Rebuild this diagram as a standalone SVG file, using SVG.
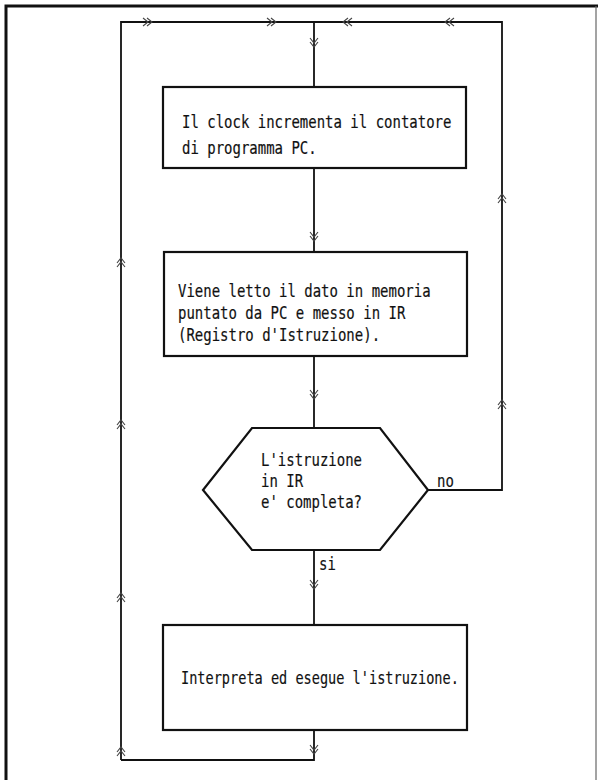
<svg xmlns="http://www.w3.org/2000/svg" width="598" height="780" viewBox="0 0 598 780">
<style>
.box{fill:none;stroke:#111;stroke-width:2.2}
.ln{fill:none;stroke:#111;stroke-width:1.8}
.ar{fill:none;stroke:#444;stroke-width:1.1}
.t{font-family:"DejaVu Sans Mono","Liberation Mono",monospace;font-size:14px;fill:#111;stroke:#111;stroke-width:0.15}
</style>
<defs>
<g id="dn"><path class="ar" d="M-4,-5 L0,0 L4,-5 M-4,-1 L0,4 L4,-1"/></g>
<g id="up"><path class="ar" d="M-4,5 L0,0 L4,5 M-4,1 L0,-4 L4,1"/></g>
<g id="rt"><path class="ar" d="M-5,-4 L0,0 L-5,4 M-1,-4 L4,0 L-1,4"/></g>
<g id="lt"><path class="ar" d="M5,-4 L0,0 L5,4 M1,-4 L-4,0 L1,4"/></g>
</defs>
<rect width="598" height="780" fill="#fff"/>
<g id="frame">
<path d="M6,780 L6,6 L598,6" fill="none" stroke="#111" stroke-width="3"/>
<line x1="596" y1="6" x2="596" y2="780" stroke="#666" stroke-width="1.2"/>
</g>
<g id="connectors">
<path class="ln" d="M121,760 L121,22 L502,22 L502,490 L428,490"/>
<path class="ln" d="M314,22 L314,87"/>
<path class="ln" d="M314,168 L314,252"/>
<path class="ln" d="M314,356 L314,428"/>
<path class="ln" d="M314,550 L314,625"/>
<path class="ln" d="M314,730 L314,760 L121,760"/>
<use href="#rt" x="148" y="22"/>
<use href="#rt" x="272" y="22"/>
<use href="#lt" x="347" y="22"/>
<use href="#lt" x="449" y="22"/>
<use href="#dn" x="314" y="43"/>
<use href="#dn" x="314" y="237"/>
<use href="#dn" x="314" y="395"/>
<use href="#dn" x="314" y="585"/>
<use href="#dn" x="314" y="750"/>
<use href="#up" x="121" y="262"/>
<use href="#up" x="121" y="424"/>
<use href="#up" x="121" y="597"/>
<use href="#up" x="121" y="751"/>
<use href="#up" x="502" y="198"/>
<use href="#up" x="502" y="404"/>
<text class="t" transform="translate(437,487) scale(1,1.25)">no</text>
<text class="t" transform="translate(319,570) scale(1,1.25)">si</text>
</g>
<g id="box1">
<rect class="box" x="163" y="87" width="303" height="81"/>
<text class="t" transform="translate(182,128) scale(1,1.25)">Il clock incrementa il contatore</text>
<text class="t" transform="translate(182,154) scale(1,1.25)">di programma PC.</text>
</g>
<g id="box2">
<rect class="box" x="164" y="252" width="303" height="104"/>
<text class="t" transform="translate(178,297) scale(1,1.25)">Viene letto il dato in memoria</text>
<text class="t" transform="translate(178,319) scale(1,1.25)">puntato da PC e messo in IR</text>
<text class="t" transform="translate(178,341) scale(1,1.25)">(Registro d'Istruzione).</text>
</g>
<g id="decision">
<polygon class="box" points="252,428 380,428 428,490 380,550 252,550 203,490"/>
<text class="t" transform="translate(261,466) scale(1,1.25)">L'istruzione</text>
<text class="t" transform="translate(261,487) scale(1,1.25)">in IR</text>
<text class="t" transform="translate(261,508) scale(1,1.25)">e' completa?</text>
</g>
<g id="box3">
<rect class="box" x="163" y="625" width="304" height="105"/>
<text class="t" transform="translate(181,684) scale(0.97,1.25)">Interpreta ed esegue l'istruzione.</text>
</g>
</svg>
